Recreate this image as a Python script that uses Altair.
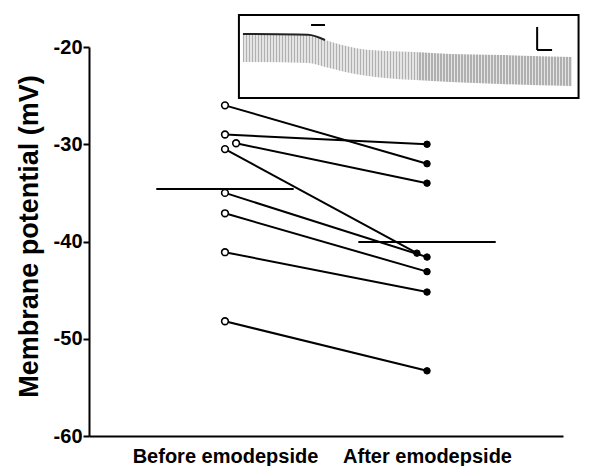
import altair as alt
import pandas as pd

# --- main data (mV) ---
before_vals = [-26.0, -29.0, -29.9, -30.5, -35.0, -37.1, -41.1, -48.2]
after_vals = [-32.0, -30.0, -34.0, -41.2, -41.6, -43.1, -45.2, -53.3]
# horizontal jitter of points around their category
before_jitter = [0.0, 0.0, 0.055, 0.0, 0.0, 0.0, 0.0, 0.0]
after_jitter = [0.0, 0.0, 0.0, -0.05, 0.0, 0.0, 0.0, 0.0]
categories = ["Before emodepside", "After emodepside"]
y_ticks = [-20, -30, -40, -50, -60]

# --- inset trace (approximate envelope of recording) ---
trace_x = [0.089, 0.411, 0.495, 0.644, 0.792, 0.941, 1.114, 1.361, 1.718]
trace_top = [-18.66, -18.73, -19.28, -20.10, -20.41, -20.51, -20.72, -20.82, -21.03]
trace_bottom = [-21.54, -21.65, -22.06, -22.78, -23.19, -23.40, -23.60, -23.81, -24.01]
inset_box = {"x": 0.069, "x2": 1.75, "y": -16.71, "y2": -25.25}
bar_segments = [
    {"x": 0.426, "x2": 0.495, "y": -17.74, "y2": -17.74},
    {"x": 1.545, "x2": 1.545, "y": -17.94, "y2": -20.31},
    {"x": 1.545, "x2": 1.619, "y": -20.31, "y2": -20.31},
]

rows = []
for i, (b, a, bj, aj) in enumerate(zip(before_vals, after_vals, before_jitter, after_jitter)):
    rows.append({"pair": i, "x": 0 + bj, "y": b, "grp": "before"})
    rows.append({"pair": i, "x": 1 + aj, "y": a, "grp": "after"})
df = pd.DataFrame(rows)

mean_b = sum(before_vals) / len(before_vals)
mean_a = sum(after_vals) / len(after_vals)
means = pd.DataFrame([
    {"x": -0.34, "x2": 0.34, "y": mean_b},
    {"x": 0.66, "x2": 1.34, "y": mean_a},
])

xscale = alt.Scale(domain=[-0.673, 1.673], nice=False, zero=False)
yscale = alt.Scale(domain=[-60, -20], nice=False, zero=False)

label_expr = f"datum.value == 0 ? '{categories[0]}' : '{categories[1]}'"
xaxis = alt.Axis(values=[0, 1], labelExpr=label_expr, ticks=False, grid=False,
                 title=None, domainColor="black", domainWidth=2, labelLimit=0,
                 labelFont="Liberation Sans", labelFontSize=20, labelFontWeight="bold",
                 labelColor="black", labelPadding=10)
yaxis = alt.Axis(values=y_ticks, grid=False, title="Membrane potential (mV)",
                 labelExpr="'' + datum.value",
                 domainColor="black", domainWidth=2, tickColor="black", tickWidth=2,
                 tickSize=6, labelFont="Liberation Sans", labelFontSize=20,
                 labelFontWeight="bold", labelColor="black", labelPadding=1,
                 titleFont="Liberation Sans", titleFontSize=27, titleFontWeight="bold",
                 titleColor="black", titlePadding=10, titleY=189)

base_x = alt.X("x:Q", scale=xscale, axis=xaxis)
base_y = alt.Y("y:Q", scale=yscale, axis=yaxis)

lines = alt.Chart(df).mark_line(color="black", strokeWidth=2).encode(
    x=base_x, y=base_y, detail="pair:N", order="x:Q")

pts_before = alt.Chart(df[df.grp == "before"]).mark_point(
    shape="circle", filled=True, fill="white", stroke="black", strokeWidth=1.6,
    size=45, opacity=1).encode(x="x:Q", y="y:Q")
pts_after = alt.Chart(df[df.grp == "after"]).mark_point(
    shape="circle", filled=True, fill="black", stroke="black", strokeWidth=1,
    size=42, opacity=1).encode(x="x:Q", y="y:Q")

mean_rules = alt.Chart(means).mark_rule(color="black", strokeWidth=2.2).encode(
    x="x:Q", x2="x2:Q", y="y:Q")

# inset
trace_df = pd.DataFrame({"x": trace_x, "top": trace_top, "bottom": trace_bottom})
n = 110
stops = []
for k in range(n):
    o1 = k / n
    o2 = (k + 0.5) / n
    o3 = (k + 1) / n
    stops += [alt.GradientStop(offset=o1, color="#b0b0b0"),
              alt.GradientStop(offset=o2, color="#b0b0b0"),
              alt.GradientStop(offset=o2, color="#e4e4e4"),
              alt.GradientStop(offset=o3, color="#e4e4e4")]
trace_area = alt.Chart(trace_df).mark_area(
    fill=alt.Gradient(gradient="linear", stops=stops, x1=0, x2=1, y1=0, y2=0),
    interpolate="monotone").encode(x="x:Q", y="top:Q", y2="bottom:Q")
trace_line = alt.Chart(trace_df[trace_df.x <= 0.5]).mark_line(
    color="#222", strokeWidth=2, interpolate="monotone").encode(x="x:Q", y="top:Q")
box = alt.Chart(pd.DataFrame([inset_box])).mark_rect(
    fill="white", stroke="black", strokeWidth=2).encode(
    x="x:Q", x2="x2:Q", y="y:Q", y2="y2:Q")
bars = alt.Chart(pd.DataFrame(bar_segments)).mark_rule(
    color="black", strokeWidth=2).encode(x="x:Q", x2="x2:Q", y="y:Q", y2="y2:Q")

chart = alt.layer(lines, mean_rules, pts_before, pts_after, box, trace_area,
                  trace_line, bars).properties(
    width=474, height=389,
    autosize=alt.AutoSizeParams(type="none"),
    padding={"left": 81, "top": 39, "right": 18, "bottom": 34},
    background="white",
).configure_view(stroke=None)

chart.save("out.html", embed_options={"renderer": "svg", "actions": False})
